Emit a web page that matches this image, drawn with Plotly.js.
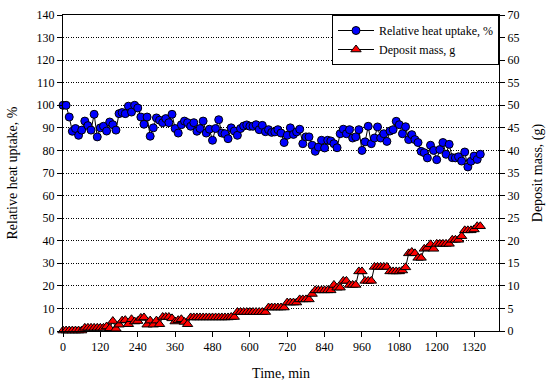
<!DOCTYPE html>
<html><head><meta charset="utf-8">
<script src="https://cdn.plot.ly/plotly-3.0.1.min.js"></script>
<style>html,body{margin:0;padding:0;background:#fff;}#chart{width:547px;height:382px;}</style>
</head><body><div id="chart"></div>
<script>
// Time (min), every 10 min
const timeMin = [];
for (let t = 0; t <= 1340; t += 10) timeMin.push(t);

// Relative heat uptake, %
const heatUptake = [
 100,100,94.8,88.5,89.7,86.7,89,93,91,89,
 96,86,90,90.7,88.6,92.6,91.4,89,96.3,96.8,
 96.3,99.6,97,100,98.8,94.8,91.6,94.8,86.3,90,
 94.4,93.4,92.3,94.1,92.3,96,89.7,87.7,91.4,93,
 92.3,90.7,92.3,88.5,89.7,93,87.7,89.4,84.5,89.7,
 93.6,87.7,87.4,85.2,90,88.6,86.7,89.7,90.8,91.3,
 90.7,90.7,91.4,89.2,91.1,88.3,89.2,88,88.2,89.2,
 87.7,83.5,86.7,90,87.1,88.2,89.4,83,86,86,
 82.3,79.6,81.5,84.5,81.1,84.5,84.2,83,81.2,87.4,
 89.4,87.4,89.2,85.5,86,89.2,80,83.8,90.7,83,
 85.5,90.4,85.5,87.4,84,88.6,89.2,92.9,91.4,87.4,
 90.5,84.8,87,84.8,83.5,79.6,79,76.7,82.3,80,
 75.9,80.4,83.5,78.3,82.7,76.8,76.7,77.2,75.3,79.3,
 72.7,75.2,77.5,76,78.3
];

// Deposit mass, g
const depositMass = [
 0.1,0.1,0.1,0.1,0.1,0.1,0.1,0.7,0.7,0.7,
 0.7,0.7,0.7,0.7,1.0,0.6,2.2,0.5,1.4,2.3,
 2.4,1.5,2.6,2.1,2.2,2.9,3.0,1.4,2.3,1.4,
 2.3,1.5,3.1,3.1,3.1,2.8,2.1,2.4,2.6,2.0,
 1.5,3.0,3.0,3.0,3.0,3.0,3.0,3.0,3.0,3.0,
 3.0,3.0,3.0,3.0,3.1,3.1,4.2,4.2,4.2,4.2,
 4.2,4.2,4.2,4.2,4.2,4.2,5.2,5.2,5.2,5.2,
 5.2,5.2,6.3,6.3,6.3,6.3,7.0,7.0,7.0,7.0,
 8.2,9.0,9.0,9.0,9.0,9.0,9.0,10.2,9.6,9.6,
 11.1,11.1,10.2,10.2,10.2,13.2,13.2,11.1,11.1,11.1,
 14.2,14.2,14.2,14.2,14.2,13.2,13.2,13.2,13.2,13.4,
 14.1,17.2,17.5,17.2,16.2,16.2,18.2,18.4,19.2,18.2,
 19.3,19.3,19.3,19.3,19.3,20.2,20.2,20.2,21.0,22.3,
 22.3,22.3,22.5,23.2,23.2
];

const xTicks = [0,120,240,360,480,600,720,840,960,1080,1200,1320];

const serif = "'Liberation Serif', 'Times New Roman', serif";

const traces = [
 {x: timeMin, y: heatUptake, name: "Relative heat uptake, %", type: "scatter", mode: "lines+markers",
  line: {color: "#000", width: 1},
  marker: {symbol: "circle", size: 8, color: "#0000ff", line: {color: "#000", width: 1}},
  cliponaxis: false},
 {x: timeMin, y: depositMass, name: "Deposit mass, g", type: "scatter", mode: "lines+markers", yaxis: "y2",
  line: {color: "#000", width: 1},
  marker: {symbol: "triangle-up", size: 9, color: "#ff0000", line: {color: "#000", width: 1}},
  cliponaxis: false}
];

const layout = {
 width: 547, height: 382,
 margin: {l: 63, r: 48, t: 15, b: 51, pad: 0},
 paper_bgcolor: "#fff", plot_bgcolor: "#fff",
 font: {family: serif, size: 12, color: "#000"},
 showlegend: true,
 legend: {x: 1, xanchor: "right", y: 1, yanchor: "top", bgcolor: "#fff", bordercolor: "#000", borderwidth: 1,
   font: {family: serif, size: 12, color: "#000"}, tracegroupgap: 0, itemwidth: 36},
 xaxis: {range: [0, 1400], tickvals: xTicks, ticktext: xTicks.map(String), ticks: "outside", ticklen: 5,
   tickcolor: "#000", tickfont: {family: serif, size: 12, color: "#000"},
   showgrid: false, zeroline: false, showline: true, linecolor: "#000", linewidth: 1,
   mirror: true, title: {text: "Time, min", font: {family: serif, size: 14, color: "#000"}, standoff: 14}},
 yaxis: {range: [0, 140], dtick: 10, ticks: "outside", ticklen: 5, tickcolor: "#000",
   tickfont: {family: serif, size: 12, color: "#000"},
   showgrid: true, gridcolor: "#000", griddash: "1px,1.5px", gridwidth: 1, zeroline: false,
   showline: true, linecolor: "#000", linewidth: 1,
   title: {text: "Relative heat uptake, %", font: {family: serif, size: 14, color: "#000"}, standoff: 15}},
 yaxis2: {range: [0, 70], dtick: 5, overlaying: "y", side: "right", ticks: "outside", ticklen: 5, tickcolor: "#000",
   tickfont: {family: serif, size: 12, color: "#000"},
   showgrid: false, zeroline: false, showline: true, linecolor: "#000", linewidth: 1,
   title: {text: "Deposit mass, (g)", font: {family: serif, size: 14, color: "#000"}, standoff: 13}}
};

Plotly.newPlot("chart", traces, layout, {staticPlot: true, displayModeBar: false});
</script></body></html>
